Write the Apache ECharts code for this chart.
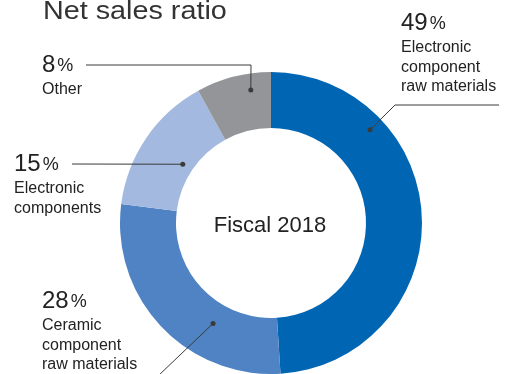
<!DOCTYPE html>
<html>
<head>
<meta charset="utf-8">
<script src="https://cdn.jsdelivr.net/npm/echarts@6/dist/echarts.min.js"></script>
<style>
  html, body { margin: 0; padding: 0; background: #fff; }
  #chart { width: 507px; height: 374px; }
</style>
</head>
<body>
<div id="chart"></div>
<script>
// Segment data (fiscal 2018 net sales split, %)
const categories = [
  'Electronic component raw materials',
  'Ceramic component raw materials',
  'Electronic components',
  'Other'
];
const values = [49, 28, 15, 8];
// Wrapped label lines under each percentage
const labelLines = [
  ['Electronic', 'component', 'raw materials'],
  ['Ceramic', 'component', 'raw materials'],
  ['Electronic', 'components'],
  ['Other']
];
const colors = ['#0066b3', '#5083c4', '#a3b9df', '#939598'];
const titleText = 'Net sales ratio';
const centerText = 'Fiscal 2018';

// Ring geometry
const CX = 271, CY = 223, R_IN = 95, R_OUT = 151;
const TEXT = '#222';

// Label placement: text block origin, where the leader meets the ring
// (fraction through the slice and radius), and the leader's bend/end point.
const labelLayout = [
  { x: 401, y: 23, frac: 0.265, r: 136, path: [[499, 105], [395, 105]] },
  { x: 42, y: 301, frac: 0.333, r: 116, path: [[158, 376]] },
  { x: 14, y: 164, frac: 0.49, r: 106, path: [[72, 164]] },
  { x: 42, y: 65, frac: 0.70, r: 134.5, path: [[86, 65], [251, 65]] }
];

const total = values.reduce((a, b) => a + b, 0);
const graphics = [];

graphics.push({
  type: 'text', left: 43, top: 0, scaleX: 1.15, z: 10,
  style: { text: titleText, font: '25px "Liberation Sans", Arial, sans-serif', fill: '#333' }
});

let cum = 0;
values.forEach((v, i) => {
  const L = labelLayout[i];
  const ang = ((cum + v * L.frac) / total) * 2 * Math.PI;
  cum += v;
  const dx = CX + L.r * Math.sin(ang);
  const dy = CY - L.r * Math.cos(ang);
  const pts = L.path.concat([[dx, dy]]);
  graphics.push({
    type: 'polyline', silent: true, z: 10,
    shape: { points: pts },
    style: { stroke: '#3a3a3a', lineWidth: 1, fill: null }
  });
  graphics.push({
    type: 'circle', silent: true, z: 10,
    shape: { cx: dx, cy: dy, r: 2.5 },
    style: { fill: '#3a3a3a' }
  });
  graphics.push({
    type: 'text', x: L.x, y: L.y, z: 10,
    style: {
      text: '{n|' + v + '}{p|%}',
      verticalAlign: 'middle', align: 'left',
      rich: {
        n: { font: '24px "Liberation Sans", Arial, sans-serif', fill: TEXT },
        p: { font: '18px "Liberation Sans", Arial, sans-serif', fill: TEXT, padding: [3, 0, 0, 2] }
      }
    }
  });
  labelLines[i].forEach((line, k) => {
    graphics.push({
      type: 'text', x: L.x, y: L.y + 25 + k * 19.5, z: 10,
      style: {
        text: line, verticalAlign: 'middle', align: 'left',
        font: '16px "Liberation Sans", Arial, sans-serif', fill: TEXT
      }
    });
  });
});

graphics.push({
  type: 'text', x: 270, y: 226, z: 10,
  style: {
    text: centerText, align: 'center', verticalAlign: 'middle',
    font: '22px "Liberation Sans", Arial, sans-serif', fill: TEXT
  }
});

const chart = echarts.init(document.getElementById('chart'), null, { renderer: 'canvas' });
chart.setOption({
  animation: false,
  backgroundColor: '#fff',
  series: [{
    type: 'pie',
    center: [CX, CY],
    radius: [R_IN, R_OUT],
    startAngle: 90,
    clockwise: true,
    label: { show: false },
    labelLine: { show: false },
    itemStyle: { borderWidth: 0 },
    emphasis: { disabled: true },
    data: categories.map((name, i) => ({
      name, value: values[i], itemStyle: { color: colors[i] }
    }))
  }],
  graphic: graphics
});
</script>
</body>
</html>
